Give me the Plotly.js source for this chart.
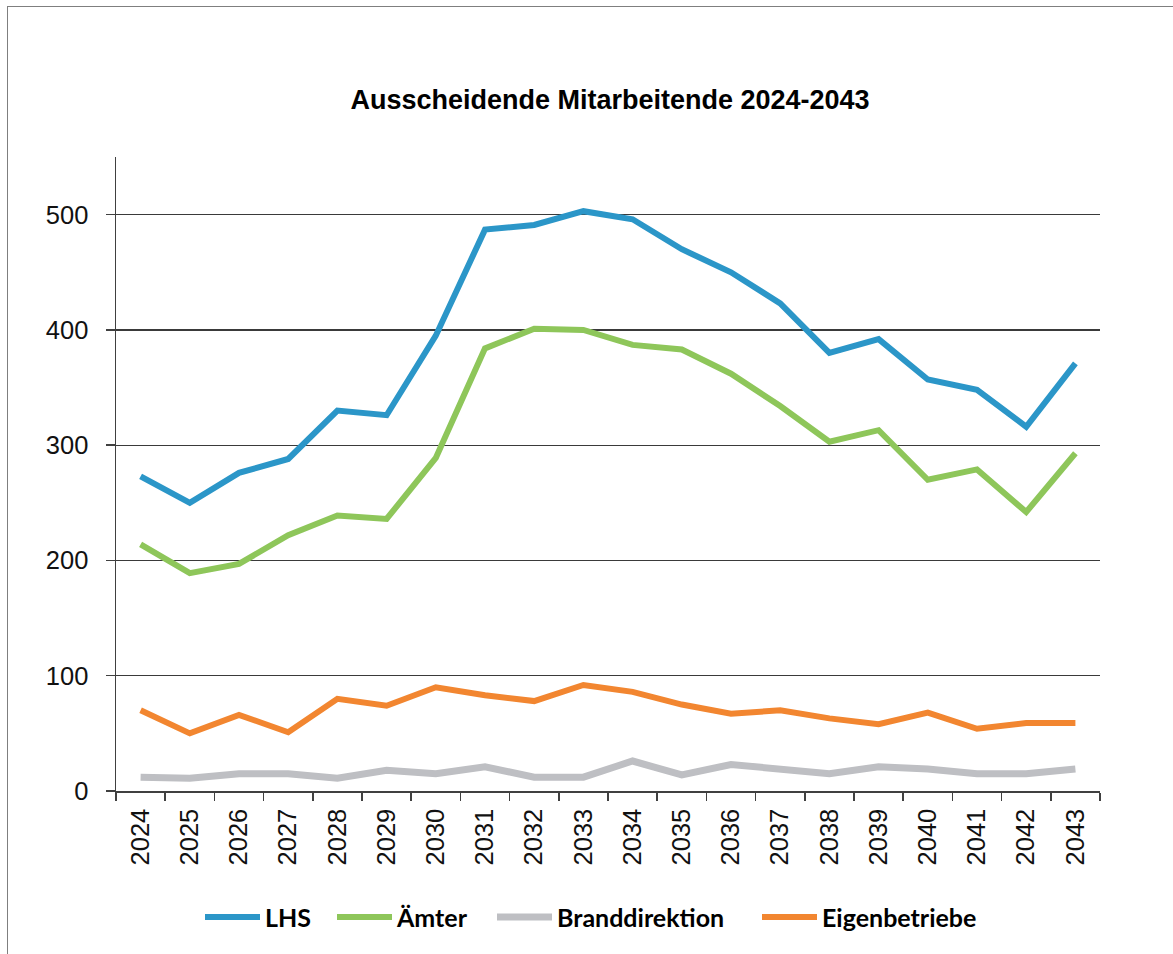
<!DOCTYPE html>
<html>
<head>
<meta charset="utf-8">
<script src="https://cdn.plot.ly/plotly-3.0.1.min.js"></script>
<style>
  html, body { margin: 0; padding: 0; background: #fff; overflow: hidden; }
  #chart { width: 1173px; height: 954px; }
  #frame { position: absolute; left: 7px; top: 6px; width: 1300px; height: 1100px;
           border: 1px solid #7f7f7f; pointer-events: none; }
</style>
</head>
<body>
<div id="chart"></div>
<div id="frame"></div>
<script>
const years = ["2024","2025","2026","2027","2028","2029","2030","2031","2032","2033",
               "2034","2035","2036","2037","2038","2039","2040","2041","2042","2043"];
const lhs            = [273, 250, 276, 288, 330, 326, 395, 487, 491, 503, 496, 470, 450, 423, 380, 392, 357, 348, 316, 371];
const aemter         = [214, 189, 197, 222, 239, 236, 289, 384, 401, 400, 387, 383, 362, 334, 303, 313, 270, 279, 242, 293];
const branddirektion = [12, 11, 15, 15, 11, 18, 15, 21, 12, 12, 26, 14, 23, 19, 15, 21, 19, 15, 15, 19];
const eigenbetriebe  = [70, 50, 66, 51, 80, 74, 90, 83, 78, 92, 86, 75, 67, 70, 63, 58, 68, 54, 59, 59];
const seriesNames = ["LHS", "Ämter", "Branddirektion", "Eigenbetriebe"];
const seriesColors = ["#2B96C8", "#8EC65A", "#BEBFC3", "#F28630"];
const seriesData = [lhs, aemter, branddirektion, eigenbetriebe];
const legendIds = ["legend", "legend2", "legend3", "legend4"];

const traces = seriesData.map((vals, i) => ({
  type: "scatter",
  mode: "lines",
  name: seriesNames[i],
  x: years,
  y: vals,
  legend: legendIds[i],
  line: { color: seriesColors[i], width: i === 2 ? 7 : 6 },
  hoverinfo: "x+y+name"
}));

const tickFont = { family: "Liberation Sans, Arial, sans-serif", size: 25.5, color: "#111" };

// plot area: left 116px, width 984px
const legendStartPx = [208, 340, 500, 765];
function makeLegend(px) {
  return {
    orientation: "h",
    x: (px - 116 - 8) / 984, xanchor: "left",
    y: -0.199, yanchor: "middle",
    font: { family: "Lato, sans-serif", size: 25, color: "#000", weight: "bold" },
    itemwidth: 55,
    bgcolor: "rgba(0,0,0,0)"
  };
}

const layout = {
  width: 1173,
  height: 954,
  paper_bgcolor: "#fff",
  plot_bgcolor: "#fff",
  margin: { l: 116, r: 73, t: 157, b: 163 },
  title: {
    text: "<b>Ausscheidende Mitarbeitende 2024-2043</b>",
    font: { family: "Liberation Sans, Arial, sans-serif", size: 27, color: "#000" },
    x: 610 / 1173, xanchor: "center",
    y: 1 - 100 / 954, yanchor: "middle"
  },
  xaxis: {
    type: "category",
    range: [-0.5, years.length - 0.5],
    showgrid: false,
    zeroline: false,
    showline: true,
    linecolor: "#404040",
    linewidth: 1.5,
    ticks: "outside",
    tickson: "boundaries",
    ticklen: 8,
    tickwidth: 1.5,
    tickcolor: "#404040",
    tickangle: -90,
    tickfont: tickFont,
    ticklabelstandoff: 6
  },
  yaxis: {
    range: [0, 550],
    dtick: 100,
    tick0: 0,
    showgrid: true,
    gridcolor: "#3a3a3a",
    gridwidth: 1.2,
    zeroline: false,
    showline: true,
    linecolor: "#404040",
    linewidth: 1.5,
    ticks: "outside",
    ticklen: 9,
    tickwidth: 1.5,
    tickcolor: "#404040",
    tickfont: tickFont,
    ticklabelstandoff: 12
  },
  legend: makeLegend(legendStartPx[0]),
  legend2: makeLegend(legendStartPx[1]),
  legend3: makeLegend(legendStartPx[2]),
  legend4: makeLegend(legendStartPx[3]),
  showlegend: true
};

Plotly.newPlot("chart", traces, layout, { displayModeBar: false, staticPlot: true });
</script>
</body>
</html>
